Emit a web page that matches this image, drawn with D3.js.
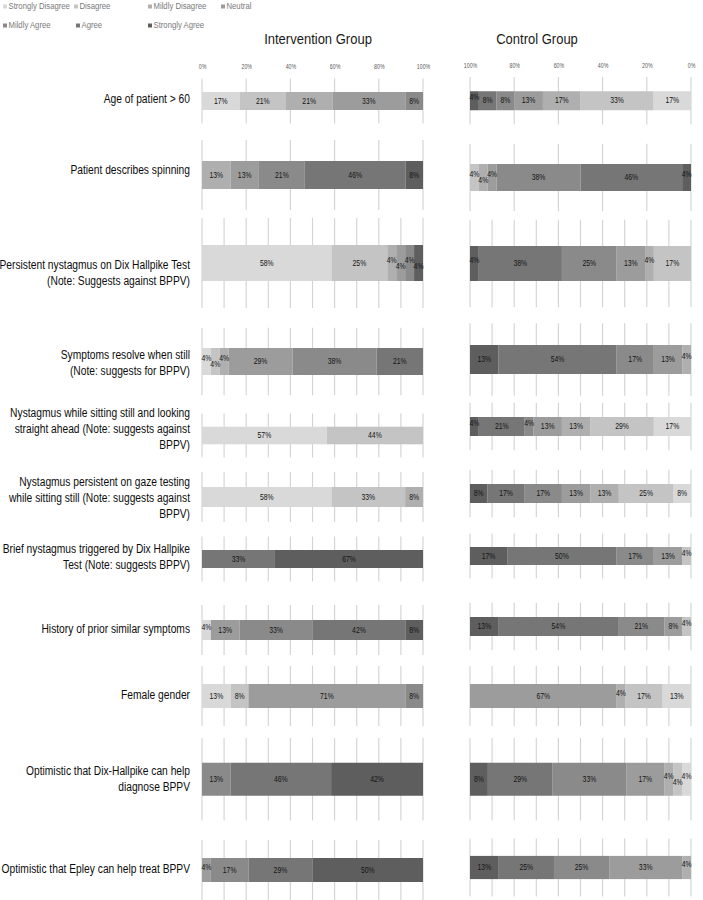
<!DOCTYPE html>
<html>
<head>
<meta charset="utf-8">
<script src="https://cdn.jsdelivr.net/npm/d3@7/dist/d3.min.js"></script>
<style>
  html, body { margin: 0; padding: 0; background: #fff; }
  svg { display: block; }
  text { font-family: "Liberation Sans", Arial, sans-serif; }
</style>
</head>
<body>
<svg id="chart" width="703" height="900"></svg>
<script>
// ---------- DATA ----------
const categories = ["Strongly Disagree", "Disagree", "Mildly Disagree", "Neutral",
                    "Mildly Agree", "Agree", "Strongly Agree"];

const questions = [
  ["Age of patient > 60"],
  ["Patient describes spinning"],
  ["Persistent nystagmus on Dix Hallpike Test", "(Note: Suggests against BPPV)"],
  ["Symptoms resolve when still", "(Note: suggests for BPPV)"],
  ["Nystagmus while sitting still and looking", "straight ahead (Note: suggests against", "BPPV)"],
  ["Nystagmus persistent on gaze testing", "while sitting still (Note: suggests against", "BPPV)"],
  ["Brief nystagmus triggered by Dix Hallpike", "Test (Note: suggests BPPV)"],
  ["History of prior similar symptoms"],
  ["Female gender"],
  ["Optimistic that Dix-Hallpike can help", "diagnose BPPV"],
  ["Optimistic that Epley can help treat BPPV"]
];

// percentages per question, in category order (SD, D, MD, N, MA, A, SA)
const intervention = [
  [17, 21, 21, 33, 8, 0, 0],
  [0, 0, 13, 13, 21, 46, 8],
  [58, 25, 4, 4, 4, 0, 4],
  [4, 4, 4, 29, 38, 21, 0],
  [57, 44, 0, 0, 0, 0, 0],
  [58, 33, 8, 0, 0, 0, 0],
  [0, 0, 0, 0, 0, 33, 67],
  [4, 0, 0, 13, 33, 42, 8],
  [13, 8, 0, 71, 8, 0, 0],
  [0, 0, 0, 0, 13, 46, 42],
  [0, 0, 0, 4, 17, 29, 50]
];

const control = [
  [17, 33, 17, 13, 8, 8, 4],
  [0, 4, 4, 4, 38, 46, 4],
  [0, 17, 4, 13, 25, 38, 4],
  [0, 0, 4, 13, 17, 54, 13],
  [17, 29, 13, 13, 4, 21, 4],
  [8, 25, 13, 13, 17, 17, 8],
  [0, 4, 0, 13, 17, 50, 17],
  [0, 4, 0, 8, 21, 54, 13],
  [13, 17, 4, 67, 0, 0, 0],
  [4, 4, 4, 17, 33, 29, 8],
  [0, 0, 4, 33, 25, 25, 13]
];

const tickValues = [0, 20, 40, 60, 80, 100];

// ---------- STYLE / LAYOUT ----------
const colors = ["#d9d9d9", "#c4c4c4", "#afafaf", "#9c9c9c", "#8a8a8a", "#767676", "#5e5e5e"];
const color = d3.scaleOrdinal().domain(categories).range(colors);

// each row is its own small chart: [plotTop, plotHeight]
const leftFrames = [[78.5,45],[140,70],[218,90],[327.75,67.5],[413.5,44],[472,50],[536.5,45],[605,50],[666,60],[738,82.5],[840,60]];
const rightFrames = [[77,47.5],[143.75,67.5],[219.75,87.5],[323.25,72.5],[402.75,47.5],[469.75,47.5],[533.5,45],[602.75,47.5],[666,60],[738,82.5],[838.5,58]];
const labelCenters = [100, 171, 274, 364, 430, 499, 558, 630, 696, 780, 870];
const coarseGridRows = new Set([0, 1]);      // 20% gridlines
const controlFromFullEnd = new Set([1]);     // stacked from the 100% end

const svg = d3.select("#chart");

const xLeft = d3.scaleLinear().domain([0, 100]).range([202, 423]);
const xRight = d3.scaleLinear().domain([100, 0]).range([470, 691]);

// condensed text helper
function ctext(parent, x, y, str, size, squeeze, anchor, fill, weight) {
  return parent.append("text")
    .attr("transform", `translate(${x},${y}) scale(${squeeze},1)`)
    .attr("text-anchor", anchor || "start")
    .attr("dominant-baseline", "middle")
    .attr("font-size", size)
    .attr("font-weight", weight || "normal")
    .attr("fill", fill || "#111")
    .text(str);
}

// Titles
ctext(svg, 318, 40, "Intervention Group", 15.5, 0.84, "middle", "#1a1a1a");
ctext(svg, 537, 40, "Control Group", 15.5, 0.84, "middle", "#1a1a1a");

// Legend
const legendPos = [[3, 7], [74, 7], [148, 7], [221, 7], [3, 26], [76, 26], [148, 26]];
const lg = svg.append("g");
categories.forEach((c, i) => {
  const [lx, ly] = legendPos[i];
  lg.append("rect").attr("x", lx).attr("y", ly - 2.5).attr("width", 4).attr("height", 4).attr("fill", color(c));
  ctext(lg, lx + 5.5, ly, c, 9, 0.86, "start", "#7a7a7a");
});

// Row labels
questions.forEach((lines, r) => {
  const n = lines.length;
  lines.forEach((t, k) => {
    ctext(svg, 190, labelCenters[r] + (k - (n - 1) / 2) * 16, t, 12.5, 0.82, "end", "#0d0d0d");
  });
});

function drawRow(g, x, frame, values, r, fromFullEnd, withTicks) {
  const [top, h] = frame;
  const y = d3.scaleBand().domain(["bar"]).range([top, top + h]).paddingInner(0).paddingOuter(0.75);
  const step = coarseGridRows.has(r) ? 20 : 10;
  const gridVals = d3.range(0, 100 + 0.01, step);
  g.append("g").selectAll("line").data(gridVals).join("line")
    .attr("x1", d => x(d)).attr("x2", d => x(d))
    .attr("y1", top).attr("y2", top + h)
    .attr("stroke", "#d2d2d2").attr("stroke-width", 1.1);

  if (withTicks) {
    const axis = d3.axisTop(x).tickValues(tickValues).tickSize(0).tickPadding(0)
      .tickFormat(d => d + "%");
    const ag = g.append("g").attr("transform", `translate(0,${top - 11})`).call(axis);
    ag.select(".domain").remove();
    ag.selectAll("text")
      .attr("y", 0).attr("dy", null)
      .attr("dominant-baseline", "middle")
      .attr("transform", "scale(0.75,1)")
      .attr("font-size", 7).attr("fill", "#595959")
      .attr("font-family", '"Liberation Sans", Arial, sans-serif');
  }

  const total = d3.sum(values);
  let cum = 0;
  const segs = [];
  values.forEach((v, i) => {
    if (v <= 0) return;
    const a = cum / total * 100, b = (cum + v) / total * 100;
    cum += v;
    const s = fromFullEnd ? 100 - a : a, e = fromFullEnd ? 100 - b : b;
    segs.push({ cat: categories[i], v, x0: Math.min(x(s), x(e)), x1: Math.max(x(s), x(e)) });
  });
  // staggered offsets for tiny segments
  let runIdx = 0;
  const ordered = segs.slice().sort((p, q) => p.x0 - q.x0);
  ordered.forEach((d, k) => {
    if (d.v < 5) {
      const prevSmall = k > 0 && ordered[k - 1].v < 5;
      runIdx = prevSmall ? runIdx + 1 : 0;
      d.dy = runIdx % 2 === 0 ? -3 : 3;
    } else { d.dy = 0; runIdx = 0; }
  });
  const bg = g.append("g");
  bg.selectAll("rect").data(segs).join("rect")
    .attr("x", d => d.x0).attr("width", d => d.x1 - d.x0)
    .attr("y", y("bar")).attr("height", y.bandwidth())
    .attr("fill", d => color(d.cat));
  segs.forEach(d => {
    ctext(bg, (d.x0 + d.x1) / 2, y("bar") + y.bandwidth() / 2 + d.dy, d.v + "%", 9.5, 0.72, "middle", "#141414");
  });
}

intervention.forEach((vals, r) => {
  drawRow(svg.append("g"), xLeft, leftFrames[r], vals, r, false, r === 0);
});
control.forEach((vals, r) => {
  drawRow(svg.append("g"), xRight, rightFrames[r], vals, r, controlFromFullEnd.has(r), r === 0);
});
</script>
</body>
</html>
